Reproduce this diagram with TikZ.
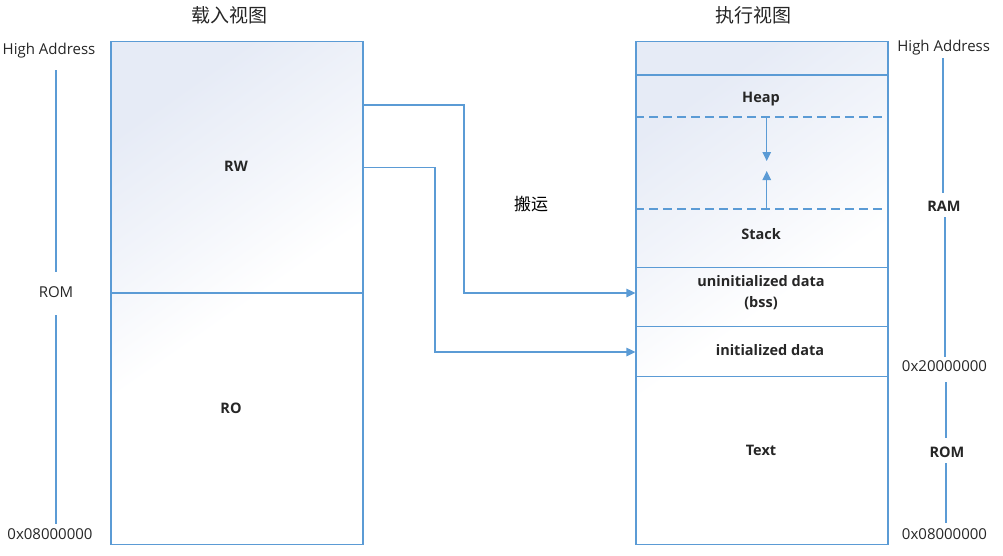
\documentclass[tikz,border=0pt]{standalone}
\usepackage{fontspec}
\setmainfont{Open Sans}
\newfontfamily\cjk{Noto Sans CJK SC}
\usetikzlibrary{arrows.meta}
\definecolor{lineblue}{HTML}{5B9BD5}
\definecolor{tint}{HTML}{E6EBF6}
\definecolor{txt}{HTML}{262626}
\pgfdeclareverticalshading{boxshade}{100bp}{color(0bp)=(white); color(48bp)=(white); color(62bp)=(white!45!tint); color(75bp)=(tint); color(100bp)=(tint)}
\begin{document}
\begin{tikzpicture}[x=1pt,y=-1pt,
  sec/.style={draw=lineblue, line width=1.2pt, rectangle, inner sep=0pt, minimum width=252pt},
  lab/.style={font=\fontsize{14.5}{17}\selectfont\bfseries, text=txt, inner sep=0pt, align=center},
  axlab/.style={font=\fontsize{15}{18}\selectfont, text=txt, inner sep=0pt},
  ttl/.style={font=\cjk\fontsize{19}{22}\selectfont, text=txt, inner sep=0pt},
  conn/.style={draw=lineblue, line width=1.2pt, -{Triangle[length=9pt,width=8.5pt]}},
  axis/.style={draw=lineblue, line width=1.2pt},
  dashline/.style={draw=lineblue, line width=1.2pt, dash pattern=on 9pt off 5pt}]
\useasboundingbox (0,0) rectangle (1003,555);
% shading of boxes
\shade[shading=boxshade, shading angle=35] (111,41.7) rectangle (363,544.7);
\shade[shading=boxshade, shading angle=35] (636,41.7) rectangle (888,544.7);
% titles
\node[ttl] (t1) at (229,15) {载入视图};
\node[ttl] (t2) at (753,15) {执行视图};
% left box
\node[sec, minimum height=251.3pt] (rw) at (237,167.35) {};
\node[sec, minimum height=251.7pt] (ro) at (237,418.85) {};
\node[lab] (rwl) at (236,166) {RW};
\node[lab] (rol) at (231,408) {RO};
% right box
\node[sec, minimum height=33.3pt] (top) at (762,58.35) {};
\node[sec, minimum height=192.5pt] (heap) at (762,171.25) {};
\node[sec, minimum height=59.2pt] (bss) at (762,297.1) {};
\node[sec, minimum height=50pt] (init) at (762,351.7) {};
\node[sec, minimum height=168pt] (text) at (762,460.7) {};
\node[lab] (heapl) at (761,99) {Heap};
\node[lab] (stackl) at (761,234) {Stack};
\node[lab] (bssl) at (761,293) {uninitialized data\\[4pt](bss)};
\node[lab] (initl) at (770,350) {initialized data};
\node[lab] (textl) at (761,450) {Text};
% dashed boundaries and growth arrows
\coordinate (d1) at (766.7,117);
\coordinate (d1e) at (766.7,161);
\coordinate (d2) at (766.7,209);
\coordinate (d2e) at (766.7,171);
\draw[dashline] (heap.west |- d1) -- (heap.east |- d1);
\draw[dashline] (heap.west |- d2) -- (heap.east |- d2);
\draw[conn] (d1) -- (d1e);
\draw[conn] (d2) -- (d2e);
% copy connectors
\draw[conn] (rw.east |- 0,105) -- (464,105) -- (464,293) -- (bss.west |- 0,293);
\draw[conn] (rw.east) -- (435,167.35) -- (435,352) -- (init.west |- 0,352);
\node[font=\cjk\fontsize{17}{20}\selectfont, text=black, inner sep=0pt] (move) at (531,204) {搬运};
% left axis
\node[axlab] (lha) at (49,51) {High Address};
\node[axlab] (lrom) at (56,292) {ROM};
\node[axlab] (lbase) at (50,534) {0x08000000};
\coordinate (la1) at (56,70);
\coordinate (la2) at (56,272);
\coordinate (la3) at (56,315);
\coordinate (la4) at (56,524);
\draw[axis] (la1) -- (la2);
\draw[axis] (la3) -- (la4);
% right axis
\node[axlab] (rha) at (943.7,48) {High Address};
\node[lab] (rram) at (944,206) {RAM};
\node[axlab] (rmid) at (944.5,366) {0x20000000};
\node[lab] (rrom) at (947,452) {ROM};
\node[axlab] (rbase) at (944.5,534) {0x08000000};
\coordinate (ra1) at (943,58);
\coordinate (ra2) at (943,193);
\coordinate (ra3) at (945,217);
\coordinate (ra4) at (945,357);
\coordinate (ra5) at (946,382);
\coordinate (ra6) at (946,438);
\coordinate (ra7) at (946,463);
\coordinate (ra8) at (946,523);
\draw[axis] (ra1) -- (ra2);
\draw[axis] (ra3) -- (ra4);
\draw[axis] (ra5) -- (ra6);
\draw[axis] (ra7) -- (ra8);
\end{tikzpicture}
\end{document}
